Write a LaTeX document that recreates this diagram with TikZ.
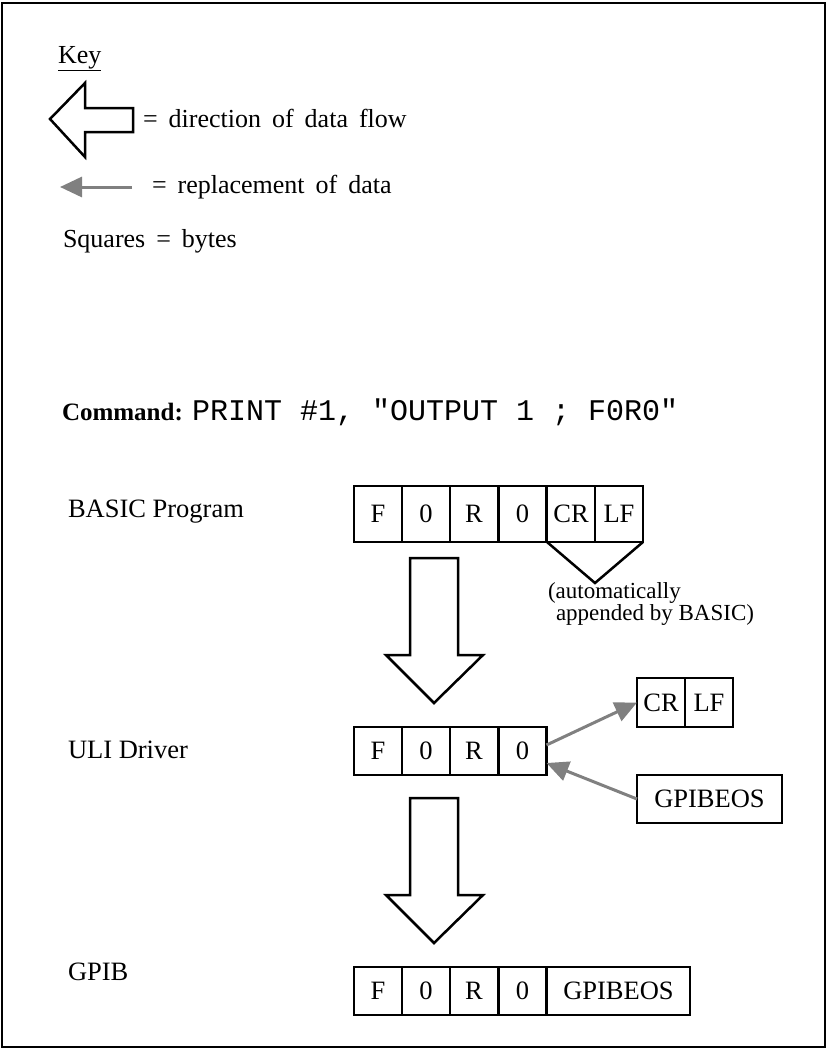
\documentclass[tikz,border=0pt]{standalone}
\usepackage{fontspec}
\setmainfont{Liberation Serif}
\newfontfamily\monofnt{Liberation Mono}
\usetikzlibrary{arrows.meta}
\newcommand\widesp{\spaceskip=11pt\relax}
\newcommand\tightlines{\lineskiplimit=-100pt\relax\lineskip=0pt\relax}
\tikzset{
  txt/.style={inner sep=0pt, outer sep=0pt, font=\fontsize{26.5}{30}\selectfont},
  keytxt/.style={inner sep=0pt, outer sep=0pt, font=\fontsize{26}{30}\selectfont\widesp},
  cell/.style={draw, line width=2.5pt, inner sep=0pt, outer sep=0pt, font=\fontsize{26.5}{30}\selectfont},
  bigarrow/.style={draw, line width=2.5pt, line join=miter},
  grayarrow/.style={draw=gray, line width=3pt, -{Triangle[length=22pt,width=20pt]}},
}
\begin{document}
\begin{tikzpicture}[x=1pt, y=-1pt]
\useasboundingbox (0,0) rectangle (827,1050);
\draw[line width=2.5pt] (2,3) rectangle (825,1047);

% Key
\node[keytxt, anchor=base west] (key) at (58,63) {\underline{Key}};
\draw[bigarrow] (133,108) -- (85,108) -- (85,83) -- (50,119) -- (85,157) -- (85,132) -- (133,132) -- cycle;
\node[keytxt, anchor=base west] (k1) at (143,127) {= direction of data flow};
\coordinate (ga1) at (132,187);
\coordinate (ga2) at (60,187);
\draw[grayarrow] (ga1) -- (ga2);
\node[keytxt, anchor=base west] (k2) at (152,193) {= replacement of data};
\node[keytxt, anchor=base west] (k3) at (63,247) {Squares = bytes};

% Command
\node[txt, anchor=base west, font=\fontsize{25}{30}\selectfont] (cmd) at (62,420) {\bfseries Command:};
\node[txt, anchor=base west, font=\monofnt\fontsize{30}{36}\selectfont] (cmdt) at (192,420) {PRINT \#1, "OUTPUT 1 ; F0R0"};

% Row labels
\node[txt, anchor=base west] (lb) at (68,517) {BASIC Program};
\node[txt, anchor=base west] (lu) at (68,758) {ULI Driver};
\node[txt, anchor=base west] (lg) at (68,980) {GPIB};

% BASIC row
\tikzset{brow/.style={cell, minimum width=48pt, minimum height=56pt}}
\node[brow] (b1) at (378,514) {F};
\node[brow] (b2) at (426,514) {0};
\node[brow] (b3) at (474,514) {R};
\node[brow] (b4) at (522.5,514) {0};
\node[brow] (b5) at (571,514) {CR};
\node[brow] (b6) at (619,514) {LF};
\coordinate (apex) at (595,583);
\draw[line width=2.5pt] (b5.south west) -- (apex) -- (b6.south east);
\node[txt, anchor=base west, align=left, font=\fontsize{23}{21.5}\selectfont\tightlines] (auto) at (548,620) {(automatically\\\hspace*{8pt}appended by BASIC)};

% Down arrow 1
\draw[bigarrow] (410,558) -- (458,558) -- (458,655) -- (483,655) -- (434,703) -- (386,655) -- (410,655) -- cycle;

% ULI row
\tikzset{urow/.style={cell, minimum width=48pt, minimum height=48pt}}
\node[urow] (u1) at (378,751) {F};
\node[urow] (u2) at (426,751) {0};
\node[urow] (u3) at (474,751) {R};
\node[urow] (u4) at (522.5,751) {0};

\node[cell, minimum width=48pt, minimum height=49pt] (c1) at (661,702.5) {CR};
\node[cell, minimum width=48pt, minimum height=49pt] (c2) at (709,702.5) {LF};
\node[cell, minimum width=145pt, minimum height=48pt] (ge) at (709.5,799) {GPIBEOS};

\draw[grayarrow] ([yshift=6pt]u4.east) -- (c1.west);
\draw[grayarrow] (ge.west) -- ([yshift=-12pt]u4.east);

% Down arrow 2
\draw[bigarrow] (410,798) -- (458,798) -- (458,895) -- (483,895) -- (434,943) -- (386,895) -- (410,895) -- cycle;

% GPIB row
\node[urow] (g1) at (378,991) {F};
\node[urow] (g2) at (426,991) {0};
\node[urow] (g3) at (474,991) {R};
\node[urow] (g4) at (522.5,991) {0};
\node[cell, minimum width=143pt, minimum height=48pt] (g5) at (618.5,991) {GPIBEOS};
\end{tikzpicture}
\end{document}
